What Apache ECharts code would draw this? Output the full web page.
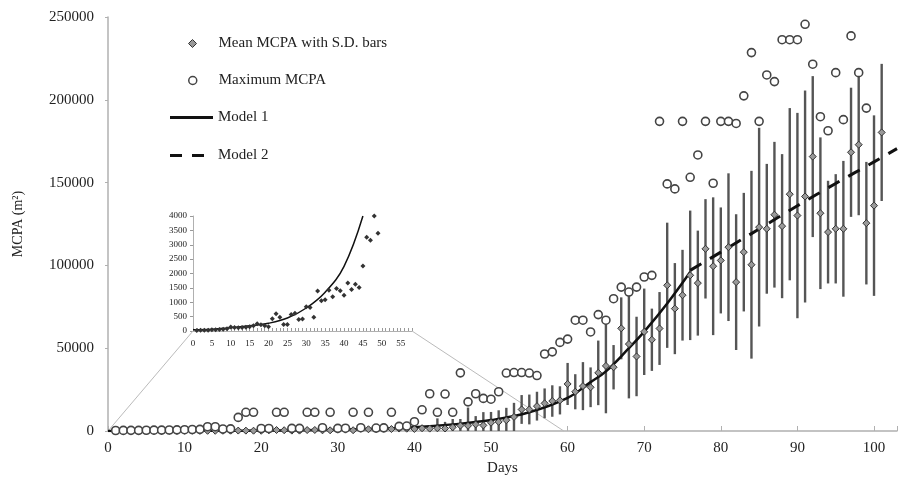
<!DOCTYPE html>
<html>
<head>
<meta charset="utf-8">
<title>MCPA by day</title>
<script src="https://cdn.jsdelivr.net/npm/echarts@6/dist/echarts.min.js"></script>
<style>
  html, body { margin: 0; padding: 0; background: #fff; }
  #chart { width: 900px; height: 481px; }
</style>
</head>
<body>
<div id="chart"></div>
<script>
// values, one entry per day starting at day 1
const firstDay = 1
const meanMCPA = [
  20, 25, 30, 30, 40, 45, 50, 60, 80, 140,
  120, 110, 120, 130, 150, 180, 250, 220, 180, 150,
  430, 600, 480, 230, 230, 570, 620, 400, 420, 840,
  820, 480, 1390, 1050, 1090, 1420, 1190, 1480, 1400, 1240,
  1670, 1440, 1630, 1510, 2260, 3260, 3160, 4000, 3400, 5000,
  5500, 6500, 8500, 13000, 13000, 15000, 16700, 18100, 18500, 28400,
  23700, 27100, 26400, 35100, 39300, 38500, 62000, 52500, 45000, 59900,
  55100, 61900, 88000, 73900, 82000, 94000, 89300, 110000, 99500, 103000,
  111000, 89900, 108000, 100400, 123100, 122100, 130600, 123700, 143000, 130100,
  141600, 165700, 131500, 120100, 122100, 122100, 168300, 172900, 125500, 136100,
  180300
]
const sdMCPA = [
  10, 15, 20, 20, 25, 30, 30, 40, 50, 80,
  80, 80, 90, 100, 110, 130, 180, 160, 140, 120,
  300, 400, 350, 200, 200, 400, 450, 350, 400, 700,
  700, 500, 1000, 900, 900, 1200, 1100, 1300, 1300, 2500,
  2000, 2000, 6000, 4000, 5000, 4000, 11000, 5000, 8000, 6500,
  7000, 7500, 8500, 8700, 9000, 8700, 9000, 9500, 8500, 12700,
  10600, 14500, 12000, 19500, 28600, 13400, 18700, 32800, 24000, 26100,
  18800, 22000, 37800, 27500, 27400, 39100, 31700, 30000, 41600, 32000,
  44600, 41000, 35800, 56700, 60000, 39200, 44000, 43500, 52000, 62000,
  64000, 48600, 45800, 31000, 33000, 41000, 39000, 42600, 37000, 54500,
  41400
]
const maxMCPA = [
  300, 350, 400, 400, 450, 500, 550, 600, 700, 800,
  900, 1000, 2600, 2600, 1200, 1300, 8200, 11300, 11300, 1500,
  1500, 11300, 11300, 1600, 1600, 11300, 11300, 2000, 11300, 1600,
  1700, 11300, 2000, 11300, 1800, 1900, 11300, 2800, 3000, 5600,
  12800, 22500, 11300, 22300, 11300, 35100, 17600, 22500, 19700, 19200,
  23700, 35000, 35300, 35300, 35000, 33500, 46500, 47800, 53500, 55500,
  66900, 66900, 59800, 70300, 66900, 79900, 86900, 83900, 86900, 93000,
  94000, 187000, 149200, 146200, 187000, 153200, 166700, 187000, 149600, 187000,
  187000, 185700, 202400, 228500, 187000, 215000, 211000, 236300, 236300, 236300,
  245600, 221500, 189800, 181300, 216400, 188000, 238600, 216400, 195000, 252200,
  null
]
// fitted curves, read at a few days
const model1 = [
  [0, 40], [5, 60], [10, 110], [15, 180], [20, 270], [25, 450], [30, 800],
  [35, 1350], [40, 2250], [45, 4000], [50, 6600], [55, 11300], [60, 20000],
  [63, 29500], [65, 36000], [68, 50000], [70, 60000], [73, 77000], [76, 96000]
]
const model2 = [
  [76, 97000], [80, 108000], [85, 122000], [90, 136000], [95, 149500], [100, 162500], [103, 170500]
]
const dayTicks = [0, 10, 20, 30, 40, 50, 60, 70, 80, 90, 100]
const insetDayTicks = [0, 5, 10, 15, 20, 25, 30, 35, 40, 45, 50, 55]
const insetLastDay = 49
const zoomEndDay = 59.5

const serif = '"Liberation Serif", "Times New Roman", serif'
const ink = '#222'
const axisGray = '#b0b0b0'

const days = meanMCPA.map((_, i) => i + firstDay)
const meanPts = days.map((d, i) => [d, meanMCPA[i]])
const barPts = days.map((d, i) => [d, meanMCPA[i], sdMCPA[i]])
const maxPts = days.map((d, i) => [d, maxMCPA[i]]).filter(p => p[1] != null)
const insetMeanPts = meanPts.filter(p => p[0] <= insetLastDay)
const insetModel = model1.filter(p => p[0] <= 45)

const chart = echarts.init(document.getElementById('chart'))

// one legend per row so the rows can sit where the figure has them
const legendAt = (top, left, w, h, textPad, item) => ({
  top,
  left,
  orient: 'vertical',
  itemWidth: w,
  itemHeight: h,
  selectedMode: false,
  textStyle: { fontFamily: serif, fontSize: 15, color: ink, padding: [0, 0, 0, textPad] },
  data: [item]
})

const option = {
  animation: false,
  backgroundColor: '#fff',
  textStyle: { fontFamily: serif },
  legend: [
    legendAt(31, 183, 8, 8, 17, {
      name: 'Mean MCPA with S.D. bars', icon: 'diamond',
      itemStyle: { color: '#999', borderColor: '#333', borderWidth: 1 }
    }),
    legendAt(68, 183, 8, 8, 17, {
      name: 'Maximum MCPA', icon: 'circle',
      itemStyle: { color: '#fff', borderColor: '#444', borderWidth: 1.5 }
    }),
    legendAt(105, 165, 43, 3, 0, {
      name: 'Model 1', icon: 'rect',
      itemStyle: { color: '#111', borderWidth: 0 }
    }),
    legendAt(143, 165, 34, 3, 9, {
      name: 'Model 2', icon: 'path://M0,0H12V3H0Z M22,0H34V3H22Z',
      itemStyle: { color: '#111', borderWidth: 0 }
    })
  ],
  grid: [
    { left: 108, right: 0, top: 17, bottom: 50 },
    { left: 193, top: 216, width: 219, height: 115 }
  ],
  xAxis: [
    {
      gridIndex: 0,
      type: 'value',
      min: 0,
      max: 103,
      interval: 10,
      name: 'Days',
      nameLocation: 'middle',
      nameGap: 30,
      nameTextStyle: { fontFamily: serif, fontSize: 15, color: ink },
      splitLine: { show: false },
      axisLine: { lineStyle: { color: axisGray, width: 1.5 } },
      axisTick: { inside: true, length: 5, lineStyle: { color: axisGray } },
      axisLabel: {
        fontFamily: serif, fontSize: 15, color: ink, margin: 10,
        formatter: v => (dayTicks.includes(v) ? String(v) : '')
      }
    },
    {
      gridIndex: 1,
      type: 'value',
      min: 0,
      max: 58,
      interval: 1,
      splitLine: { show: false },
      axisLine: { lineStyle: { color: axisGray } },
      axisTick: { inside: true, length: 3, lineStyle: { color: '#999' } },
      axisLabel: {
        fontFamily: serif, fontSize: 9, color: ink, margin: 8,
        formatter: v => (insetDayTicks.includes(v) ? String(v) : '')
      }
    }
  ],
  yAxis: [
    {
      gridIndex: 0,
      type: 'value',
      min: 0,
      max: 250000,
      interval: 50000,
      name: 'MCPA (m²)',
      nameLocation: 'middle',
      nameGap: 83,
      nameTextStyle: { fontFamily: serif, fontSize: 14, color: ink },
      splitLine: { show: false },
      axisLine: { show: true, lineStyle: { color: axisGray, width: 1.5 } },
      axisTick: { show: true, length: 3, lineStyle: { color: axisGray } },
      axisLabel: { fontFamily: serif, fontSize: 15, color: ink, margin: 14, formatter: v => String(v) }
    },
    {
      gridIndex: 1,
      type: 'value',
      min: 0,
      max: 4000,
      interval: 500,
      splitLine: { show: false },
      axisLine: { show: true, lineStyle: { color: axisGray } },
      axisTick: { show: true, length: 3, lineStyle: { color: '#999' } },
      axisLabel: { fontFamily: serif, fontSize: 9, color: ink, margin: 6, formatter: v => String(v) }
    }
  ],
  series: [
    {
      name: 'S.D.',
      type: 'custom',
      xAxisIndex: 0,
      yAxisIndex: 0,
      z: 2,
      encode: { x: 0, y: 1 },
      data: barPts,
      renderItem: (params, api) => {
        const d = api.value(0)
        const m = api.value(1)
        const s = api.value(2)
        const top = api.coord([d, m + s])
        const bot = api.coord([d, Math.max(0, m - s)])
        return {
          type: 'line',
          shape: { x1: top[0], y1: top[1], x2: bot[0], y2: bot[1] },
          style: { stroke: '#555', lineWidth: 2.4 }
        }
      }
    },
    {
      name: 'Model 1',
      type: 'line',
      xAxisIndex: 0,
      yAxisIndex: 0,
      z: 3,
      smooth: 0.4,
      symbol: 'none',
      data: model1,
      itemStyle: { color: '#111' },
      lineStyle: { color: '#111', width: 2.5 }
    },
    {
      name: 'Model 2',
      type: 'line',
      xAxisIndex: 0,
      yAxisIndex: 0,
      z: 3,
      symbol: 'none',
      smooth: 0.3,
      data: model2,
      itemStyle: { color: '#111' },
      lineStyle: { color: '#111', width: 3, type: [13, 10] }
    },
    {
      name: 'Mean MCPA with S.D. bars',
      type: 'scatter',
      xAxisIndex: 0,
      yAxisIndex: 0,
      z: 4,
      symbol: 'diamond',
      symbolSize: 7,
      data: meanPts,
      itemStyle: { color: '#999', borderColor: '#333', borderWidth: 1, opacity: 1 }
    },
    {
      name: 'Maximum MCPA',
      type: 'scatter',
      xAxisIndex: 0,
      yAxisIndex: 0,
      z: 5,
      symbol: 'circle',
      symbolSize: 8,
      data: maxPts,
      itemStyle: { color: '#fff', borderColor: '#444', borderWidth: 1.6, opacity: 1 }
    },
    {
      name: 'Model 1 inset',
      type: 'line',
      xAxisIndex: 1,
      yAxisIndex: 1,
      z: 3,
      smooth: 0.4,
      symbol: 'none',
      clip: true,
      data: insetModel,
      lineStyle: { color: '#111', width: 1.5 }
    },
    {
      name: 'Mean inset',
      type: 'scatter',
      xAxisIndex: 1,
      yAxisIndex: 1,
      z: 4,
      symbol: 'diamond',
      symbolSize: 5,
      clip: false,
      data: insetMeanPts,
      itemStyle: { color: '#333', opacity: 1 }
    }
  ]
}

chart.setOption(option)

// grey guide lines joining the zoomed day range to the inset
const a0 = chart.convertToPixel({ xAxisIndex: 0, yAxisIndex: 0 }, [0, 0])
const a1 = chart.convertToPixel({ xAxisIndex: 0, yAxisIndex: 0 }, [zoomEndDay, 0])
const b0 = chart.convertToPixel({ xAxisIndex: 1, yAxisIndex: 1 }, [0, 0])
const b1 = chart.convertToPixel({ xAxisIndex: 1, yAxisIndex: 1 }, [58, 0])
chart.setOption({
  graphic: [
    { type: 'line', silent: true, z: 1, shape: { x1: a0[0], y1: a0[1], x2: b0[0], y2: b0[1] }, style: { stroke: '#bbb', lineWidth: 1 } },
    { type: 'line', silent: true, z: 1, shape: { x1: a1[0], y1: a1[1], x2: b1[0], y2: b1[1] }, style: { stroke: '#bbb', lineWidth: 1 } }
  ]
})
</script>
</body>
</html>
